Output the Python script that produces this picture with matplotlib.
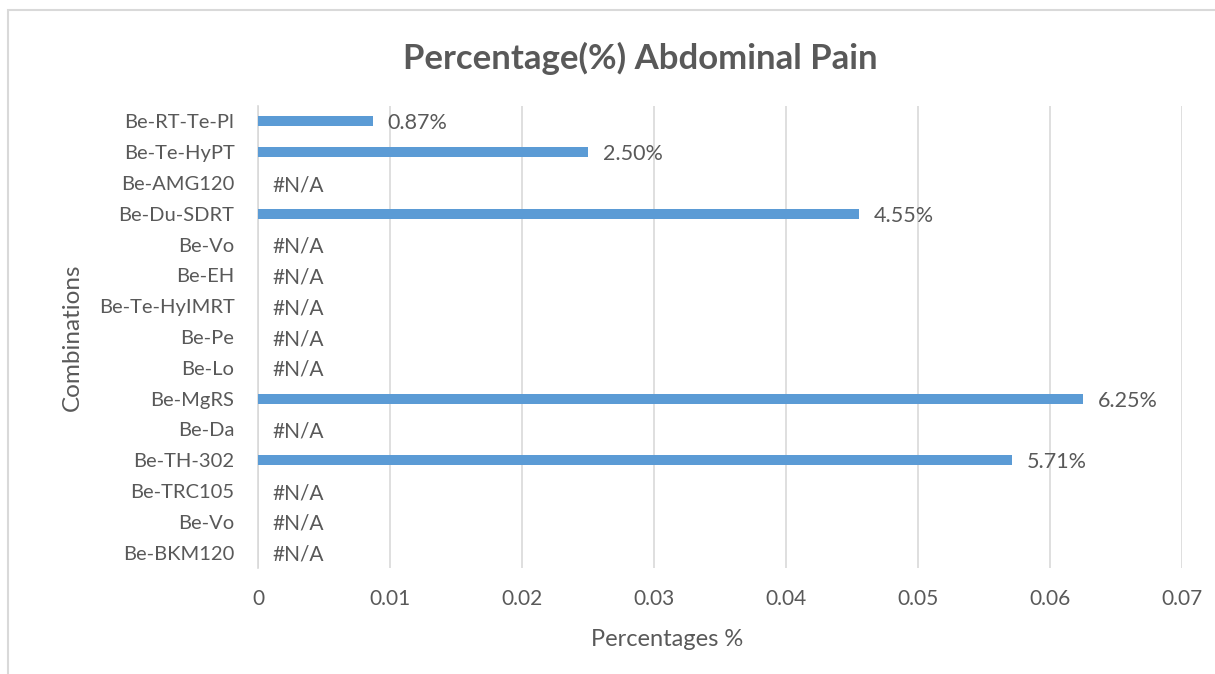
import numpy as np
import matplotlib
matplotlib.use("Agg")
import matplotlib.pyplot as plt

# combinations, bottom to top as drawn; nan means no data (#N/A)
combinations = ["Be-BKM120", "Be-Vo", "Be-TRC105", "Be-TH-302", "Be-Da", "Be-MgRS",
                "Be-Lo", "Be-Pe", "Be-Te-HyIMRT", "Be-EH", "Be-Vo", "Be-Du-SDRT",
                "Be-AMG120", "Be-Te-HyPT", "Be-RT-Te-Pl"]
abdominal_pain = [np.nan, np.nan, np.nan, 0.0571, np.nan, 0.0625,
                  np.nan, np.nan, np.nan, np.nan, np.nan, 0.0455,
                  np.nan, 0.025, 0.0087]
x_ticks = [0, 0.01, 0.02, 0.03, 0.04, 0.05, 0.06, 0.07]
x_tick_labels = ["0", "0.01", "0.02", "0.03", "0.04", "0.05", "0.06", "0.07"]

plt.rcParams['font.family'] = ['Lato', 'DejaVu Sans']
txt = '#595959'
grid = '#D9D9D9'

fig = plt.figure(figsize=(12.15, 6.74), dpi=100)
ax = fig.add_axes([258/1215, 1 - 568/674, 924/1215, 462/674])

pos = np.arange(len(combinations))
vals = np.array(abdominal_pain, dtype=float)
ax.barh(pos, np.nan_to_num(vals), height=0.33, color='#5B9BD5', zorder=3)

# value labels; missing values are shown as #N/A at the axis
for y, v in zip(pos, vals):
    if np.isnan(v):
        ax.annotate("#N/A", (0, y), xytext=(14, -2), textcoords='offset pixels',
                    va='center', ha='left', fontsize=15, color=txt)
    else:
        ax.annotate(f"{v:.2%}", (v, y), xytext=(15, -2), textcoords='offset pixels',
                    va='center', ha='left', fontsize=15.5, color=txt)

ax.set_xlim(0, 0.07)
ax.set_ylim(-0.5, len(combinations) - 0.5)
ax.set_xticks(x_ticks)
ax.set_xticklabels(x_tick_labels)
ax.set_yticks(pos)
ax.set_yticklabels(combinations)
ax.tick_params(length=0, labelcolor=txt)
ax.tick_params(axis='x', pad=15, labelsize=15)
ax.tick_params(axis='y', pad=17, labelsize=14.5)
ax.grid(axis='x', color=grid, linewidth=1.2, zorder=0)
for side in ['top', 'right', 'bottom']:
    ax.spines[side].set_visible(False)
ax.spines['left'].set_color(grid)
ax.spines['left'].set_linewidth(1.2)

ax.set_xlabel("Percentages %", fontsize=17, color=txt)
ax.xaxis.set_label_coords((667 - 258) / 924, (568 - 640) / 462)
ax.xaxis.label.set_va('center')
ax.set_ylabel("Combinations", fontsize=17.5, color=txt)
ax.yaxis.set_label_coords((72 - 258) / 924, (568 - 337) / 462)
ax.yaxis.label.set_va('center')
fig.text(640/1215, 1 - 58/674, "Percentage(%) Abdominal Pain", ha='center', va='center',
         fontsize=25, fontweight='bold', color=txt)

# chart area frame, partly cut off at the right and bottom
frame = plt.Rectangle((8/1215, -0.05), 1.2, 1 - 10/674 + 0.05, transform=fig.transFigure,
                      fill=False, edgecolor=grid, linewidth=1.5)
fig.add_artist(frame)

fig.savefig("out.png", dpi=100)
